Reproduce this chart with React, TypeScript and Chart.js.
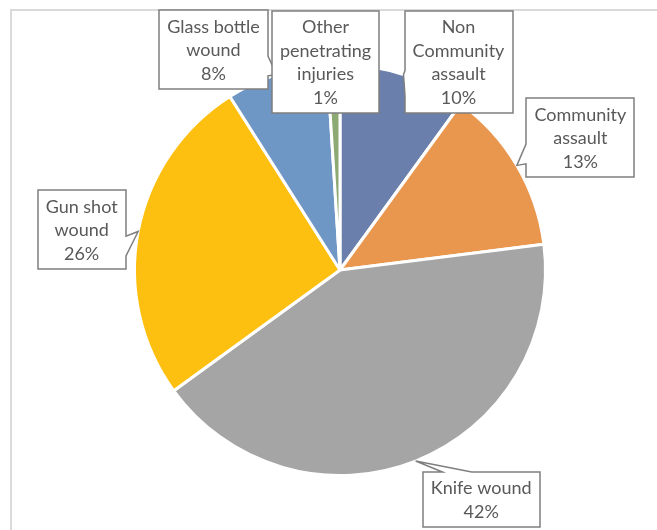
import React, { useEffect, useRef } from "react";
import { Chart, registerables } from "chart.js";

Chart.register(...registerables);

// ---- data ----
const categories = [
  "Non Community assault",
  "Community assault",
  "Knife wound",
  "Gun shot wound",
  "Glass bottle wound",
  "Other penetrating injuries",
];
const values = [10, 13, 42, 26, 8, 1];
const labelLines = [
  ["Non", "Community", "assault"],
  ["Community", "assault"],
  ["Knife wound"],
  ["Gun shot", "wound"],
  ["Glass bottle", "wound"],
  ["Other", "penetrating", "injuries"],
];

// ---- style / layout ----
const sliceColors = ["#6A7FAB", "#E9964E", "#A5A5A5", "#FDC010", "#6F97C6", "#8DAA74"];
// callout box centre offset from the slice's outer mid-point
const calloutOffsets = [
  [55, -13],
  [63.5, -28],
  [65.5, 38],
  [-56.5, -2],
  [-63, -25],
  [-8, -3],
];
const FONT = '18px "Lato"';
const LINE_H = 23.5;
const PAD_X = 8;
const PAD_Y = 4;

const calloutPlugin = {
  id: "callouts",
  afterDatasetsDraw(chart: any) {
    const ctx = chart.ctx as CanvasRenderingContext2D;
    const meta = chart.getDatasetMeta(0);
    const data = chart.data.datasets[0].data as number[];
    const total = data.reduce((a, b) => a + b, 0);
    ctx.save();
    ctx.font = FONT;
    meta.data.forEach((arc: any, i: number) => {
      const p = arc.getProps(["x", "y", "startAngle", "endAngle", "outerRadius"], true);
      const mid = (p.startAngle + p.endAngle) / 2;
      const tx = p.x + Math.cos(mid) * p.outerRadius;
      const ty = p.y + Math.sin(mid) * p.outerRadius;
      const lines = [...labelLines[i], Math.round((data[i] / total) * 100) + "%"];
      const tw = Math.max(...lines.map((l) => ctx.measureText(l).width));
      const w = Math.round(tw + PAD_X * 2);
      const h = Math.round(lines.length * LINE_H + PAD_Y * 2);
      const cx = tx + calloutOffsets[i][0];
      const cy = ty + calloutOffsets[i][1];
      const L = Math.round(cx - w / 2);
      const T = Math.round(cy - h / 2);
      const R = L + w;
      const B = T + h;
      const inside = tx >= L && tx <= R && ty >= T && ty <= B;
      const dx = (tx - cx) / w;
      const dy = (ty - cy) / h;
      ctx.beginPath();
      ctx.moveTo(L, T);
      if (!inside && Math.abs(dy) >= Math.abs(dx) && dy < 0) {
        const a = tx > cx ? L + (w * 7) / 12 : L + (w * 2) / 12;
        const b = tx > cx ? L + (w * 10) / 12 : L + (w * 5) / 12;
        ctx.lineTo(a, T);
        ctx.lineTo(tx, ty);
        ctx.lineTo(b, T);
      }
      ctx.lineTo(R, T);
      if (!inside && Math.abs(dx) > Math.abs(dy) && dx > 0) {
        const a = ty > cy ? T + (h * 7) / 12 : T + (h * 2) / 12;
        const b = ty > cy ? T + (h * 10) / 12 : T + (h * 5) / 12;
        ctx.lineTo(R, a);
        ctx.lineTo(tx, ty);
        ctx.lineTo(R, b);
      }
      ctx.lineTo(R, B);
      if (!inside && Math.abs(dy) >= Math.abs(dx) && dy > 0) {
        const a = tx > cx ? L + (w * 10) / 12 : L + (w * 5) / 12;
        const b = tx > cx ? L + (w * 7) / 12 : L + (w * 2) / 12;
        ctx.lineTo(a, B);
        ctx.lineTo(tx, ty);
        ctx.lineTo(b, B);
      }
      ctx.lineTo(L, B);
      if (!inside && Math.abs(dx) > Math.abs(dy) && dx < 0) {
        const a = ty > cy ? T + (h * 10) / 12 : T + (h * 5) / 12;
        const b = ty > cy ? T + (h * 7) / 12 : T + (h * 2) / 12;
        ctx.lineTo(L, a);
        ctx.lineTo(tx, ty);
        ctx.lineTo(L, b);
      }
      ctx.closePath();
      ctx.fillStyle = "#ffffff";
      ctx.fill();
      ctx.lineWidth = 1.5;
      ctx.strokeStyle = "#7f7f7f";
      ctx.stroke();

      ctx.fillStyle = "#595959";
      ctx.textAlign = "center";
      ctx.textBaseline = "middle";
      const startY = cy - ((lines.length - 1) * LINE_H) / 2;
      lines.forEach((l, k) => ctx.fillText(l, cx, startY + k * LINE_H + 1));
    });
    ctx.restore();
  },
};

export default function App() {
  const ref = useRef<HTMLCanvasElement | null>(null);
  useEffect(() => {
    if (!ref.current) return;
    const chart = new Chart(ref.current, {
      type: "pie",
      data: {
        labels: categories,
        datasets: [
          {
            data: values,
            backgroundColor: sliceColors,
            borderColor: "#ffffff",
            borderWidth: 3,
          },
        ],
      },
      options: {
        responsive: false,
        animation: false,
        layout: { padding: { left: 133, right: 110, top: 63, bottom: 53 } },
        plugins: {
          legend: { display: false },
          tooltip: { enabled: false },
        },
      },
      plugins: [calloutPlugin],
    });
    return () => chart.destroy();
  }, []);
  return (
    <div style={{ position: "absolute", left: 0, top: 0, width: 657, height: 530, background: "#fff", overflow: "hidden" }}>
      <div
        style={{
          position: "absolute",
          left: 10,
          top: 9,
          width: 700,
          height: 600,
          borderTop: "2px solid #dadada",
          borderLeft: "2px solid #dadada",
        }}
      />
      <canvas ref={ref} width={657} height={530} style={{ position: "absolute", left: 0, top: 0, display: "block" }} />
    </div>
  );
}
